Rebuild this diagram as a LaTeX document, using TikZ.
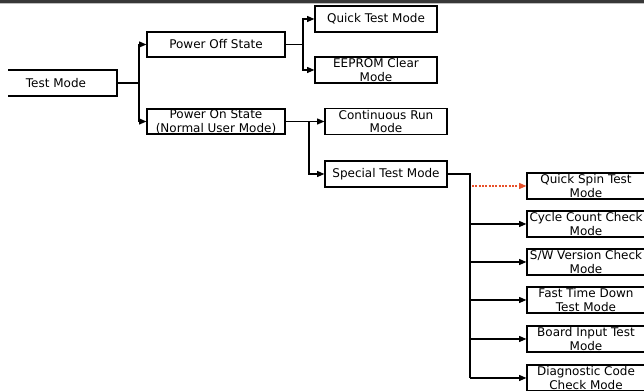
\documentclass[tikz,border=0pt]{standalone}
\usepackage{fontspec}
\setmainfont{DejaVu Sans}
\usetikzlibrary{arrows.meta}
\definecolor{dotred}{HTML}{E8502A}
\begin{document}
\begin{tikzpicture}[x=0.75pt,y=-0.75pt,
  box/.style={draw=black,line width=0.9pt,rectangle,inner sep=0pt,align=center,
    font=\fontsize{9pt}{10.4pt}\selectfont},
  conn/.style={line width=0.9pt,-{Triangle[length=5.5pt,width=4.5pt]}},
  plain/.style={line width=0.9pt},
  thickconn/.style={line width=1.5pt}]
\useasboundingbox (0,0) rectangle (644,391);
\clip (0,0) rectangle (644,391);
\fill[black!78] (0,0) rectangle (644,3);
\fill[black!25] (0,3) rectangle (644,4);
% Test Mode (left edge cut)
\node[box,draw=none,minimum width=122*0.75pt,minimum height=26*0.75pt] (test) at (56,83) {Test Mode};
\draw[plain] (8,70) -- (117,70) -- (117,96) -- (8,96);
\coordinate (testE) at (117,83);
% level 1
\node[box,minimum width=138*0.75pt,minimum height=25*0.75pt] (off) at (216,44.5) {Power Off State};
\node[box,minimum width=138*0.75pt,minimum height=25*0.75pt] (on) at (216,121.5) {Power On State\\(Normal User Mode)};
% level 2
\node[box,minimum width=122*0.75pt,minimum height=26*0.75pt] (quick) at (376,19) {Quick Test Mode};
\node[box,minimum width=122*0.75pt,minimum height=26*0.75pt] (eeprom) at (376,70) {EEPROM Clear\\Mode};
\node[box,minimum width=122*0.75pt,minimum height=26*0.75pt] (cont) at (386,121.5) {Continuous Run\\Mode};
\node[box,minimum width=122*0.75pt,minimum height=26*0.75pt] (special) at (386,174) {Special Test Mode};
% level 3
\foreach \n/\y/\t in {qspin/186/{Quick Spin Test\\Mode},cycle/224/{Cycle Count Check\\Mode},sw/262/{S/W Version Check\\Mode},fast/300/{Fast Time Down\\Test Mode},board/339/{Board Input Test\\Mode},diag/378/{Diagnostic Code\\Check Mode}}
  \node[box,minimum width=118*0.75pt,minimum height=26*0.75pt] (\n) at (586,\y) {\t};
% connectors
\draw[plain] (testE) -- (139,83) coordinate (j1);
\draw[conn] (j1) |- (off.west);
\draw[conn] (j1) |- (on.west);
\draw[plain] (off.east) -- (303,44.5) coordinate (j2);
\draw[conn] (j2) |- (quick.west);
\draw[conn] (j2) |- (eeprom.west);
\draw[conn] (on.east) -- (cont.west);
\coordinate (j3) at (309,121.5);
\draw[conn] (j3) |- (special.west);
\draw[thickconn] (special.east) -- (470,174) coordinate (j4) -- (470,378) coordinate (j5);
\draw[line width=0.9pt,dotred,dash pattern=on 1.5pt off 1pt,-{Triangle[length=5.5pt,width=4.5pt]}] (472,186) -- (qspin.west);
\foreach \n in {cycle,sw,fast,board,diag}
  \draw[conn] (j4 |- \n.west) -- (\n.west);
\end{tikzpicture}
\end{document}
